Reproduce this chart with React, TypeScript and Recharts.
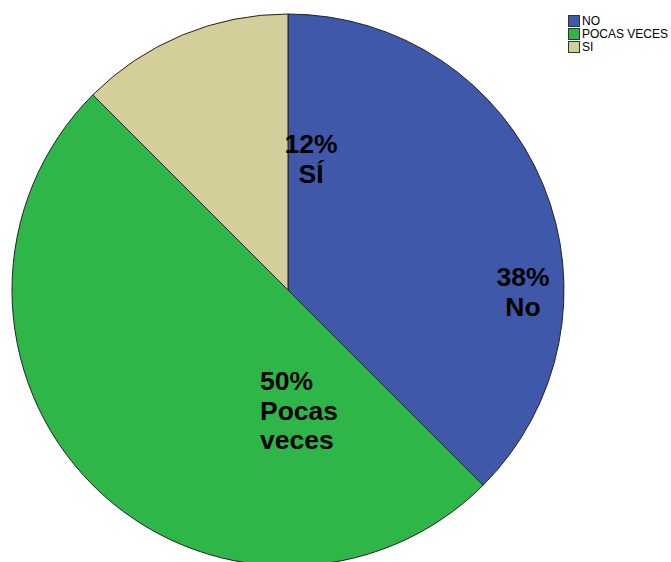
import React from 'react';
import { PieChart, Pie, Cell, Legend } from 'recharts';

const categories = ['NO', 'POCAS VECES', 'SI'];
const counts = [3, 4, 1];
const percentLabels = ['38%', '50%', '12%'];
const sliceNames = [['No'], ['Pocas', 'veces'], ['SÍ']];

const COLORS = ['#3f58aa', '#2fb648', '#d4cf9a'];
// label anchor offsets from the pie centre, and text alignment
const LABEL_OFFSETS = [
    { dx: 235, dy: -4, anchor: 'middle' },
    { dx: -28, dy: 100, anchor: 'start' },
    { dx: 23, dy: -137, anchor: 'middle' },
];

const data = categories.map((name, i) => ({ name, value: counts[i] }));

const renderLabel = (props: any) => {
    const { cx, cy, index } = props;
    const off = LABEL_OFFSETS[index];
    const lines = [percentLabels[index], ...sliceNames[index]];
    return (
        <text
            x={cx + off.dx}
            y={cy + off.dy}
            textAnchor={off.anchor}
            fill="#000"
            fontFamily="Liberation Sans, Arial, sans-serif"
            fontWeight="bold"
            fontSize={26.5}
        >
            {lines.map((l, i) => (
                <tspan key={i} x={cx + off.dx} dy={i === 0 ? 0 : 29.5}>{l}</tspan>
            ))}
        </text>
    );
};

const renderLegend = () => (
    <div style={{ fontFamily: 'Liberation Sans, Arial, sans-serif', fontSize: 12, color: '#000' }}>
        {categories.map((c, i) => (
            <div key={c} style={{ display: 'flex', alignItems: 'center', height: 13 }}>
                <span style={{
                    display: 'inline-block', width: 10, height: 10, background: COLORS[i],
                    border: '1px solid #333', marginRight: 2,
                }} />
                <span>{c}</span>
            </div>
        ))}
    </div>
);

const App: React.FC = () => {
    return (
        <div style={{ position: 'absolute', left: 0, top: 0, width: 671, height: 562, background: '#fff', overflow: 'hidden' }}>
            <PieChart width={671} height={562} margin={{ top: 0, right: 0, bottom: 0, left: 0 }}>
                <Pie
                    data={data}
                    dataKey="value"
                    nameKey="name"
                    cx={288}
                    cy={290}
                    outerRadius={276}
                    startAngle={90}
                    endAngle={-270}
                    stroke="#222"
                    strokeWidth={1}
                    label={renderLabel}
                    labelLine={false}
                    isAnimationActive={false}
                >
                    {data.map((entry, index) => (
                        <Cell key={`cell-${index}`} fill={COLORS[index % COLORS.length]} />
                    ))}
                </Pie>
                <Legend
                    content={renderLegend}
                    layout="vertical"
                    verticalAlign="top"
                    align="right"
                    wrapperStyle={{ position: 'absolute', top: 14, left: 568, width: 103 }}
                />
            </PieChart>
        </div>
    );
};

export default App;
